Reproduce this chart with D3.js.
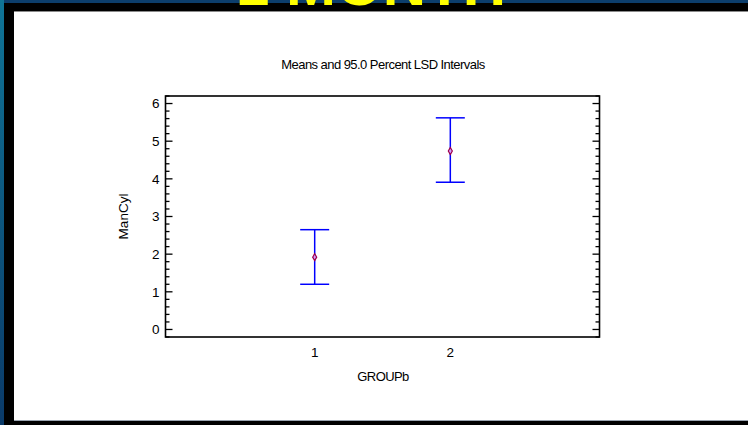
<!DOCTYPE html>
<html>
<head>
<meta charset="utf-8">
<script src="https://cdn.jsdelivr.net/npm/d3@7"></script>
<style>
  html, body { margin: 0; padding: 0; background: #0b3d6b; }
  svg { display: block; }
  text { font-family: "Liberation Sans", Arial, sans-serif; }
</style>
</head>
<body>
<svg id="chart" width="748" height="425"></svg>
<script>
"use strict";

// values
var groups = [1, 2];
var means = [1.92, 4.74];
var lower = [1.2, 3.91];
var upper = [2.65, 5.62];
var yMajor = [0, 1, 2, 3, 4, 5, 6];
var yMinor = d3.range(-2, 63, 2).map((d) => d / 10);

var svg = d3.select("#chart");

// slide backdrop and frame
var defs = svg.append("defs");
var grad = defs
  .append("linearGradient")
  .attr("id", "side")
  .attr("x1", 0)
  .attr("y1", 0)
  .attr("x2", 0)
  .attr("y2", 1);
grad.append("stop").attr("offset", "0%").attr("stop-color", "#0f7597");
grad.append("stop").attr("offset", "100%").attr("stop-color", "#0a3a69");

svg.append("rect").attr("width", 748).attr("height", 425).attr("fill", "url(#side)");
svg.append("rect").attr("x", 4).attr("width", 744).attr("height", 3).attr("fill", "#0c3e6c");
svg.append("rect").attr("x", 4).attr("y", 3).attr("width", 744).attr("height", 422).attr("fill", "#000");
svg.append("rect").attr("x", 14).attr("y", 11).attr("width", 734).attr("height", 410).attr("fill", "#fff");
svg.append("line").attr("x1", 14).attr("x2", 748).attr("y1", 11.5).attr("y2", 11.5).attr("stroke", "#8a8a8a");
svg.append("line").attr("x1", 14).attr("x2", 748).attr("y1", 420.5).attr("y2", 420.5).attr("stroke", "#9aa4b0");

// slide heading, cut off at the top as in the screenshot
svg
  .append("text")
  .attr("x", 236)
  .attr("y", 5)
  .attr("fill", "#ffff00")
  .style("font-size", "60px")
  .style("font-weight", "bold")
  .text("1 MONTH");

// plot area
var pLeft = 165.5,
  pRight = 599.5,
  pTop = 96,
  pBottom = 337;

var x = d3.scaleLinear().domain([-0.1, 3.1]).range([pLeft, pRight]);
var y = d3.scaleLinear().domain([-0.2, 6.2]).range([pBottom, pTop]);

var g = svg.append("g");

// ticks on left and right, pointing inward
function ticks(side) {
  var x0 = side === "left" ? pLeft : pRight;
  var dir = side === "left" ? 1 : -1;
  g.append("g")
    .selectAll("line")
    .data(yMinor)
    .join("line")
    .attr("x1", x0)
    .attr("x2", (d) => x0 + dir * (yMajor.indexOf(Math.round(d * 10) / 10) >= 0 ? 7 : 4))
    .attr("y1", (d) => y(d))
    .attr("y2", (d) => y(d))
    .attr("stroke", "#000")
    .attr("stroke-width", 1.3);
}
ticks("left");
ticks("right");

g.append("rect")
  .attr("x", pLeft)
  .attr("y", pTop)
  .attr("width", pRight - pLeft)
  .attr("height", pBottom - pTop)
  .attr("fill", "none")
  .attr("stroke", "#000")
  .attr("stroke-width", 1.6);

g.append("g")
  .selectAll("text")
  .data(yMajor)
  .join("text")
  .attr("x", pLeft - 6)
  .attr("y", (d) => y(d))
  .attr("dy", "0.36em")
  .attr("text-anchor", "end")
  .style("font-size", "13.5px")
  .text((d) => d);

g.append("g")
  .selectAll("text")
  .data(groups)
  .join("text")
  .attr("x", (d) => x(d))
  .attr("y", 357)
  .attr("text-anchor", "middle")
  .style("font-size", "13.5px")
  .text((d) => d);

// titles
svg
  .append("text")
  .attr("x", 383)
  .attr("y", 69)
  .attr("text-anchor", "middle")
  .style("font-size", "13px")
  .style("letter-spacing", "-0.55px")
  .text("Means and 95.0 Percent LSD Intervals");

svg
  .append("text")
  .attr("x", 383)
  .attr("y", 381)
  .attr("text-anchor", "middle")
  .style("font-size", "13px")
  .style("letter-spacing", "-0.6px")
  .text("GROUPb");

svg
  .append("text")
  .attr("transform", "translate(128," + (pTop + pBottom) / 2 + ") rotate(-90)")
  .attr("text-anchor", "middle")
  .style("font-size", "13.5px")
  .text("ManCyl");

// intervals
var bars = g
  .append("g")
  .selectAll("g")
  .data(groups.map((d, i) => ({ grp: d, mean: means[i], lo: lower[i], hi: upper[i] })))
  .join("g");

bars
  .append("line")
  .attr("x1", (d) => x(d.grp))
  .attr("x2", (d) => x(d.grp))
  .attr("y1", (d) => y(d.lo))
  .attr("y2", (d) => y(d.hi))
  .attr("stroke", "#0000ff")
  .attr("stroke-width", 1.5);

["lo", "hi"].forEach((k) => {
  bars
    .append("line")
    .attr("x1", (d) => x(d.grp) - 14.5)
    .attr("x2", (d) => x(d.grp) + 14.5)
    .attr("y1", (d) => y(d[k]))
    .attr("y2", (d) => y(d[k]))
    .attr("stroke", "#0000ff")
    .attr("stroke-width", 1.5);
});

bars
  .append("path")
  .attr("transform", (d) => "translate(" + x(d.grp) + "," + y(d.mean) + ")")
  .attr("d", d3.symbol(d3.symbolDiamond, 14))
  .attr("fill", "#d0a0ff")
  .attr("stroke", "#a0004a")
  .attr("stroke-width", 1.2);
</script>
</body>
</html>
